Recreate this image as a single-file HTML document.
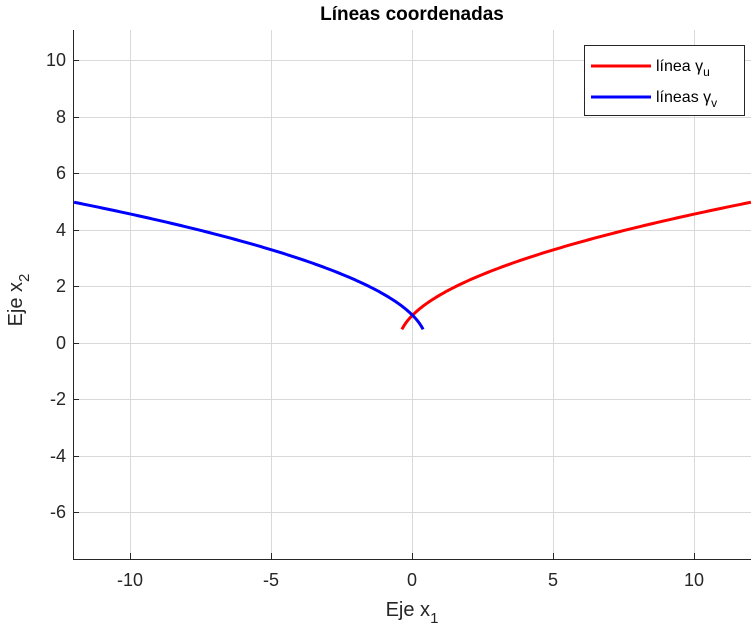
<!DOCTYPE html>
<html><head><meta charset="utf-8"><style>
body{margin:0;background:#fff;}
svg{display:block;font-family:"Liberation Sans",sans-serif;}
</style></head><body>
<svg width="755" height="633" viewBox="0 0 755 633" xmlns="http://www.w3.org/2000/svg">
<rect width="755" height="633" fill="#fff"/>
<g stroke="#d9d9d9" stroke-width="1">
<line x1="130.5" y1="30" x2="130.5" y2="559"/>
<line x1="271.5" y1="30" x2="271.5" y2="559"/>
<line x1="412.5" y1="30" x2="412.5" y2="559"/>
<line x1="553.5" y1="30" x2="553.5" y2="559"/>
<line x1="694.5" y1="30" x2="694.5" y2="559"/>
<line x1="73" y1="60.5" x2="751" y2="60.5"/>
<line x1="73" y1="117.5" x2="751" y2="117.5"/>
<line x1="73" y1="173.5" x2="751" y2="173.5"/>
<line x1="73" y1="230.5" x2="751" y2="230.5"/>
<line x1="73" y1="286.5" x2="751" y2="286.5"/>
<line x1="73" y1="343.5" x2="751" y2="343.5"/>
<line x1="73" y1="399.5" x2="751" y2="399.5"/>
<line x1="73" y1="456.5" x2="751" y2="456.5"/>
<line x1="73" y1="512.5" x2="751" y2="512.5"/>
</g>
<path d="M73.5,30V559.5H751" fill="none" stroke="#262626" stroke-width="1"/>
<g stroke="#262626">
<line x1="130.5" y1="559" x2="130.5" y2="553"/><line x1="271.5" y1="559" x2="271.5" y2="553"/><line x1="412.5" y1="559" x2="412.5" y2="553"/><line x1="553.5" y1="559" x2="553.5" y2="553"/><line x1="694.5" y1="559" x2="694.5" y2="553"/>
<line x1="73" y1="60.5" x2="79" y2="60.5"/><line x1="73" y1="117.5" x2="79" y2="117.5"/><line x1="73" y1="173.5" x2="79" y2="173.5"/><line x1="73" y1="230.5" x2="79" y2="230.5"/><line x1="73" y1="286.5" x2="79" y2="286.5"/><line x1="73" y1="343.5" x2="79" y2="343.5"/><line x1="73" y1="399.5" x2="79" y2="399.5"/><line x1="73" y1="456.5" x2="79" y2="456.5"/><line x1="73" y1="512.5" x2="79" y2="512.5"/>
</g>
<g font-size="18" fill="#262626" text-anchor="middle">
<text x="130" y="586">-10</text><text x="271" y="586">-5</text><text x="412" y="586">0</text><text x="553" y="586">5</text><text x="694" y="586">10</text>
</g>
<g font-size="18" fill="#262626" text-anchor="end">
<text x="66" y="66">10</text><text x="66" y="123">8</text><text x="66" y="179">6</text><text x="66" y="236">4</text><text x="66" y="292">2</text><text x="66" y="349">0</text><text x="66" y="405">-2</text><text x="66" y="462">-4</text><text x="66" y="518">-6</text>
</g>
<text x="412" y="616" font-size="20" fill="#262626" text-anchor="middle">Eje x<tspan font-size="15" dy="7">1</tspan></text>
<text transform="translate(22,300) rotate(-90)" font-size="20" fill="#262626" text-anchor="middle">Eje x<tspan font-size="15" dy="7">2</tspan></text>
<text x="412" y="20" font-size="19" font-weight="bold" fill="#000" text-anchor="middle">Líneas coordenadas</text>
<path id="red" d="" fill="none" stroke="#ff0000" stroke-width="3"/>
<path id="blue" d="" fill="none" stroke="#0000ff" stroke-width="3"/>
<rect x="584.5" y="45.5" width="160" height="70" fill="#fff" stroke="#262626"/>
<line x1="591" y1="66" x2="651" y2="66" stroke="#ff0000" stroke-width="3"/>
<line x1="591" y1="97" x2="651" y2="97" stroke="#0000ff" stroke-width="3"/>
<text x="656" y="71" font-size="16" fill="#000">línea γ<tspan font-size="12" dy="5">u</tspan></text>
<text x="656" y="102" font-size="16" fill="#000">líneas γ<tspan font-size="12" dy="5">v</tspan></text>
<script>
function X(v){return 412.5+v*28.2;}function Y(v){return 343.5-v*28.25;}
var r="",b="";
for(var i=0;i<=200;i++){var t=0.5+4.5*i/200;var x=(t*t-1)/2;
r+=(i?"L":"M")+X(x).toFixed(2)+","+Y(t).toFixed(2);
b+=(i?"L":"M")+X(-x).toFixed(2)+","+Y(t).toFixed(2);}
document.getElementById("red").setAttribute("d",r);
document.getElementById("blue").setAttribute("d",b);
</script>
</svg>
</body></html>
